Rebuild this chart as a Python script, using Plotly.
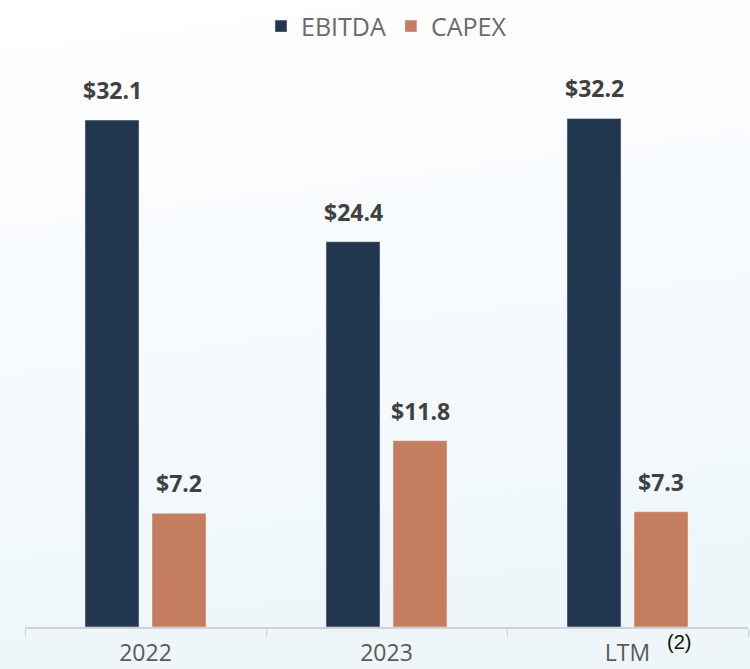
import plotly.graph_objects as go
import base64

categories = ["2022", "2023", "LTM"]
ebitda = [32.1, 24.4, 32.2]
capex = [7.2, 11.8, 7.3]
ebitda_labels = ["$32.1", "$24.4", "$32.2"]
capex_labels = ["$7.2", "$11.8", "$7.3"]

NAVY = "#22364f"
COPPER = "#c47d5e"
LABEL = "#404040"

svg = ('<svg xmlns="http://www.w3.org/2000/svg" width="750" height="669">'
       '<defs><linearGradient id="g" x1="0" y1="0" x2="0.15" y2="1">'
       '<stop offset="0" stop-color="#ffffff"/><stop offset="1" stop-color="#eef6fa"/>'
       '</linearGradient></defs><rect width="750" height="669" fill="url(#g)"/></svg>')
bg_uri = "data:image/svg+xml;base64," + base64.b64encode(svg.encode()).decode()

fig = go.Figure()
fig.add_trace(go.Bar(name="EBITDA", x=categories, y=ebitda, marker_color=NAVY))
fig.add_trace(go.Bar(name="CAPEX", x=categories, y=capex, marker_color=COPPER))

label_font = dict(family="Open Sans", size=23, color=LABEL, weight="bold")
for i, (v, t) in enumerate(zip(ebitda, ebitda_labels)):
    fig.add_annotation(x=i, y=v, xref="x", yref="y", text=t, showarrow=False,
                       xshift=-33.5, yshift=12, yanchor="bottom", font=label_font)
for i, (v, t) in enumerate(zip(capex, capex_labels)):
    fig.add_annotation(x=i, y=v, xref="x", yref="y", text=t, showarrow=False,
                       xshift=33.5, yshift=12, yanchor="bottom", font=label_font)

fig.update_layout(
    width=750, height=669,
    margin=dict(l=25, r=2, t=40, b=42, autoexpand=False),
    paper_bgcolor="rgba(0,0,0,0)",
    plot_bgcolor="rgba(0,0,0,0)",
    barmode="group",
    bargap=0.444,
    bargroupgap=0.194,
    showlegend=True,
    legend=dict(orientation="h", x=0.50, xanchor="center", y=0.995, yanchor="top",
                yref="container",
                font=dict(family="Open Sans", size=25, color="#6a6a6a"),
                bgcolor="rgba(0,0,0,0)", itemwidth=30),
    xaxis=dict(type="category", range=[-0.5, 2.5], autorange=False,
               showline=True, linecolor="#cfd3d6", linewidth=1.5,
               ticks="outside", tickson="boundaries", ticklen=8, tickcolor="#cfd3d6",
               ticklabelstandoff=5,
               tickfont=dict(family="Open Sans", size=23, color="#5a5a5a"),
               showgrid=False, fixedrange=True),
    yaxis=dict(range=[0, 37.17], autorange=False, visible=False, showgrid=False,
               zeroline=False, fixedrange=True),
    images=[dict(source=bg_uri, xref="paper", yref="paper", x=-25/723, y=1 + 40/587,
                 sizex=750/723, sizey=669/587, xanchor="left", yanchor="top",
                 sizing="stretch", layer="below")],
)
fig.add_annotation(x=2, y=0, xref="x", yref="paper", xshift=51, yshift=-28,
                   text="(2)", showarrow=False,
                   font=dict(family="Liberation Sans", size=20, color="#111111"))

fig.write_html("out.html", config={"displayModeBar": False},
               post_script="document.body.style.margin='0';document.body.style.overflow='hidden';")
